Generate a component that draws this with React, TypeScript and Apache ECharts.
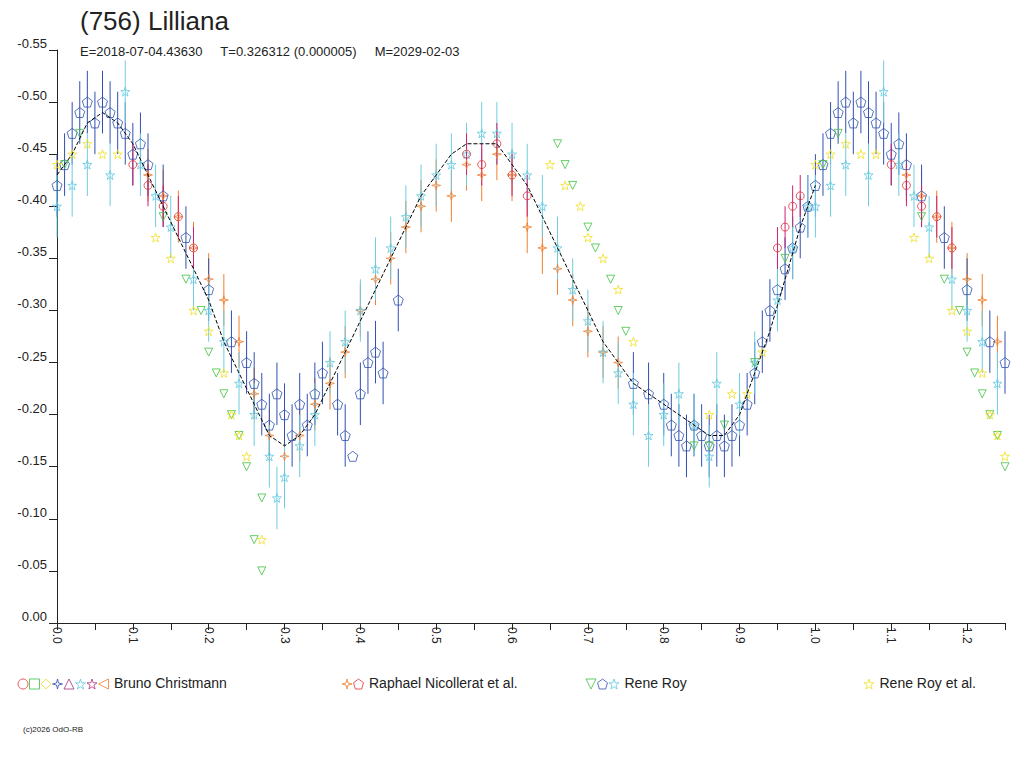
import React, { useEffect, useRef } from "react";
import * as echarts from "echarts";

// [phase, mag, error]
const blueData = [
  [0.0, -0.42, 0.03], [0.01, -0.44, 0.03], [0.02, -0.47, 0.03], [0.03, -0.49, 0.03], [0.04, -0.50, 0.03],
  [0.05, -0.48, 0.03], [0.06, -0.50, 0.03], [0.07, -0.49, 0.03], [0.08, -0.48, 0.03], [0.09, -0.47, 0.03],
  [0.1, -0.45, 0.03], [0.11, -0.46, 0.03], [0.12, -0.44, 0.03], [0.14, -0.41, 0.03], [0.17, -0.37, 0.03],
  [0.2, -0.32, 0.03], [0.23, -0.27, 0.03], [0.25, -0.25, 0.03], [0.26, -0.23, 0.03], [0.27, -0.21, 0.03],
  [0.28, -0.19, 0.03], [0.29, -0.22, 0.03], [0.3, -0.20, 0.03], [0.31, -0.18, 0.03], [0.32, -0.21, 0.03],
  [0.33, -0.19, 0.03], [0.34, -0.22, 0.03], [0.35, -0.24, 0.03], [0.37, -0.21, 0.03], [0.38, -0.18, 0.03],
  [0.39, -0.16, 0.0], [0.4, -0.22, 0.03], [0.41, -0.25, 0.03], [0.42, -0.26, 0.03], [0.43, -0.24, 0.03],
  [0.45, -0.31, 0.03], [0.76, -0.23, 0.03], [0.78, -0.22, 0.03], [0.8, -0.21, 0.03], [0.81, -0.19, 0.03],
  [0.82, -0.18, 0.03], [0.83, -0.17, 0.03], [0.84, -0.19, 0.03], [0.85, -0.18, 0.03], [0.86, -0.17, 0.03],
  [0.87, -0.18, 0.03], [0.88, -0.17, 0.03], [0.89, -0.18, 0.03], [0.9, -0.19, 0.03], [0.91, -0.21, 0.03],
  [0.92, -0.24, 0.03], [0.93, -0.27, 0.03], [0.94, -0.30, 0.03], [0.95, -0.32, 0.03], [0.96, -0.34, 0.03],
  [0.97, -0.36, 0.03], [0.98, -0.38, 0.03], [0.99, -0.40, 0.03],
];
const cyanData = [
  [0.0, -0.40, 0.03], [0.02, -0.42, 0.03], [0.04, -0.44, 0.03], [0.07, -0.43, 0.03], [0.09, -0.51, 0.03],
  [0.11, -0.44, 0.03], [0.13, -0.41, 0.03], [0.15, -0.38, 0.03], [0.18, -0.33, 0.03], [0.2, -0.30, 0.03],
  [0.22, -0.27, 0.03], [0.24, -0.23, 0.03], [0.26, -0.20, 0.03], [0.28, -0.16, 0.03], [0.29, -0.12, 0.03],
  [0.3, -0.14, 0.03], [0.32, -0.17, 0.03], [0.34, -0.20, 0.03], [0.36, -0.25, 0.03], [0.38, -0.27, 0.03],
  [0.4, -0.30, 0.03], [0.42, -0.34, 0.03], [0.44, -0.36, 0.03], [0.46, -0.39, 0.03], [0.48, -0.41, 0.03],
  [0.5, -0.43, 0.03], [0.52, -0.44, 0.03], [0.54, -0.45, 0.03], [0.56, -0.47, 0.03], [0.58, -0.47, 0.03],
  [0.6, -0.45, 0.03], [0.62, -0.43, 0.03], [0.64, -0.40, 0.03], [0.66, -0.36, 0.03], [0.68, -0.32, 0.03],
  [0.7, -0.29, 0.03], [0.72, -0.26, 0.03], [0.74, -0.24, 0.03], [0.76, -0.21, 0.03], [0.78, -0.18, 0.03],
  [0.8, -0.20, 0.03], [0.82, -0.22, 0.03], [0.84, -0.19, 0.03], [0.86, -0.16, 0.03], [0.87, -0.23, 0.03],
  [0.9, -0.21, 0.03], [0.92, -0.25, 0.03], [0.95, -0.31, 0.03], [0.97, -0.36, 0.03], [0.99, -0.40, 0.03],
];
const orangeData = [
  [0.12, -0.43, 0.025], [0.14, -0.41, 0.025], [0.16, -0.39, 0.025], [0.18, -0.36, 0.025], [0.2, -0.33, 0.025],
  [0.22, -0.31, 0.025], [0.24, -0.27, 0.025], [0.26, -0.22, 0.025], [0.28, -0.18, 0.025], [0.3, -0.16, 0.025],
  [0.32, -0.18, 0.025], [0.34, -0.21, 0.025], [0.36, -0.23, 0.025], [0.38, -0.26, 0.025], [0.4, -0.30, 0.025],
  [0.42, -0.33, 0.025], [0.44, -0.35, 0.025], [0.46, -0.38, 0.025], [0.48, -0.40, 0.025], [0.5, -0.42, 0.025],
  [0.52, -0.41, 0.025], [0.54, -0.44, 0.025], [0.56, -0.43, 0.025], [0.58, -0.45, 0.025], [0.6, -0.43, 0.025],
  [0.62, -0.38, 0.025], [0.64, -0.36, 0.025], [0.66, -0.34, 0.025], [0.68, -0.31, 0.025], [0.7, -0.28, 0.025],
  [0.72, -0.26, 0.025], [0.74, -0.25, 0.025],
];
const redData = [
  [0.1, -0.44, 0.02], [0.12, -0.42, 0.02], [0.14, -0.40, 0.02], [0.16, -0.39, 0.02], [0.18, -0.36, 0.02],
  [0.54, -0.45, 0.02], [0.56, -0.44, 0.02], [0.58, -0.46, 0.02], [0.6, -0.43, 0.02], [0.62, -0.41, 0.02],
  [0.95, -0.36, 0.02], [0.96, -0.38, 0.02], [0.97, -0.40, 0.02], [0.98, -0.41, 0.02],
];
const greenData = [
  [0.01, -0.44], [0.03, -0.47], [0.14, -0.39], [0.17, -0.33], [0.19, -0.30], [0.2, -0.26], [0.21, -0.24],
  [0.22, -0.22], [0.23, -0.20], [0.24, -0.18], [0.25, -0.15], [0.26, -0.08], [0.27, -0.05], [0.27, -0.12],
  [0.66, -0.46], [0.67, -0.44], [0.68, -0.42], [0.7, -0.38], [0.71, -0.36], [0.73, -0.33], [0.74, -0.30],
  [0.75, -0.28], [0.84, -0.17], [0.86, -0.17], [0.88, -0.19], [0.92, -0.25], [0.96, -0.35],
];
const yellowData = [
  [0.0, -0.44], [0.02, -0.45], [0.04, -0.46], [0.06, -0.45], [0.08, -0.45], [0.13, -0.37], [0.15, -0.35],
  [0.18, -0.30], [0.2, -0.28], [0.22, -0.24], [0.23, -0.20], [0.24, -0.18], [0.25, -0.16], [0.27, -0.08],
  [0.65, -0.44], [0.67, -0.42], [0.69, -0.40], [0.7, -0.37], [0.72, -0.35], [0.74, -0.32], [0.76, -0.27],
  [0.86, -0.20], [0.89, -0.22], [0.91, -0.22], [0.93, -0.26],
];
const fitData = [
  [0.0, -0.43], [0.02, -0.45], [0.04, -0.48], [0.06, -0.49], [0.08, -0.48], [0.1, -0.46], [0.12, -0.43],
  [0.14, -0.4], [0.16, -0.37], [0.18, -0.34], [0.2, -0.31], [0.22, -0.27], [0.24, -0.24], [0.26, -0.21],
  [0.28, -0.18], [0.3, -0.17], [0.32, -0.18], [0.34, -0.2], [0.36, -0.23], [0.38, -0.26], [0.4, -0.29],
  [0.42, -0.32], [0.44, -0.35], [0.46, -0.38], [0.48, -0.41], [0.5, -0.43], [0.52, -0.45], [0.54, -0.46],
  [0.56, -0.46], [0.58, -0.46], [0.6, -0.44], [0.62, -0.42], [0.64, -0.39], [0.66, -0.36], [0.68, -0.33],
  [0.7, -0.3], [0.72, -0.27], [0.74, -0.25], [0.76, -0.23], [0.78, -0.22], [0.8, -0.21], [0.82, -0.2],
  [0.84, -0.19], [0.86, -0.18], [0.88, -0.18], [0.9, -0.2], [0.92, -0.24], [0.94, -0.28], [0.96, -0.33],
  [0.98, -0.38], [1.0, -0.42],
];
const yTicks = ["0.00", "-0.05", "-0.10", "-0.15", "-0.20", "-0.25", "-0.30", "-0.35", "-0.40", "-0.45", "-0.50", "-0.55"];
const legendNames = ["Bruno Christmann", "Raphael Nicollerat et al.", "Rene Roy", "Rene Roy et al."];

const PENTAGON = "path://M5,0L10,3.8L8.1,10L1.9,10L0,3.8Z";
const STAR = "path://M5,0L6.2,3.6L10,3.6L7,5.9L8.1,9.5L5,7.3L1.9,9.5L3,5.9L0,3.6L3.8,3.6Z";
const TRI_DOWN = "path://M0,0L10,0L5,9Z";
const FOUR = "path://M5,0L6,4L10,5L6,6L5,10L4,6L0,5L4,4Z";
const TRI_LEFT = "path://M0,5L9,0L9,10Z";

// phases below 0.25 are shown again after 1.0
const wrap = (d: number[][]) => d.concat(d.filter((p) => p[0] <= 0.25).map((p) => [p[0] + 1, ...p.slice(1)]));

const App: React.FC = () => {
  const ref = useRef<HTMLDivElement>(null);
  useEffect(() => {
    const chart = echarts.init(ref.current, null, { renderer: "svg" });
    const font = "Liberation Sans, Arial, sans-serif";
    const errSeries = (data: number[][], color: string) => ({
      type: "custom",
      data: wrap(data),
      z: 1,
      silent: true,
      renderItem: (_p: any, api: any) => {
        const x = api.value(0), y = api.value(1), e = api.value(2);
        const a = api.coord([x, y - e]), b = api.coord([x, y + e]);
        return { type: "line", shape: { x1: a[0], y1: a[1], x2: b[0], y2: b[1] }, style: { stroke: color, lineWidth: 1 } };
      },
    });
    const pts = (data: number[][], color: string, symbol: string, size = 9) => ({
      type: "scatter",
      data: wrap(data).map((p) => [p[0], p[1]]),
      symbol,
      symbolSize: size,
      z: 3,
      itemStyle: { color: "rgba(0,0,0,0)", borderColor: color, borderWidth: 1 },
    });
    const legendX = [18, 342, 586, 864];
    const legendSyms = [
      [["circle", "#e03030"], ["rect", "#40c040"], ["diamond", "#f0e020"], [FOUR, "#3050b0"], ["triangle", "#a03080"], [STAR, "#60c8e0"], [STAR, "#b03080"], [TRI_LEFT, "#f08030"]],
      [[FOUR, "#f08030"], [PENTAGON, "#e03030"]],
      [[TRI_DOWN, "#40c040"], [PENTAGON, "#3050b0"], [STAR, "#60c8e0"]],
      [[STAR, "#f0e020"]],
    ];
    const legendTexts: any[] = [];
    const legendPts: any[] = [];
    legendSyms.forEach((syms, i) => {
      syms.forEach(([s, c], j) =>
        legendPts.push({ value: [legendX[i] + 5 + j * 11.5, 684], symbol: s, itemStyle: { borderColor: c } })
      );
      legendTexts.push({
        type: "text", left: legendX[i] + syms.length * 11.5 + 4, top: 676,
        style: { text: legendNames[i], font: `14px ${font}`, fill: "#222" },
      });
    });
    chart.setOption({
      animation: false,
      textStyle: { fontFamily: font },
      grid: [
        { left: 57, right: 19, top: 50, bottom: 145 },
        { left: 0, right: 0, top: 0, bottom: 0, show: false },
      ],
      xAxis: [
        {
          type: "value", min: 0, max: 1.25, interval: 0.05, splitLine: { show: false },
          axisLine: { lineStyle: { color: "#222" } },
          axisTick: { length: 7, lineStyle: { color: "#222" } },
          axisLabel: {
            rotate: -90, color: "#222", fontSize: 12, margin: 4,
            formatter: (v: number) => (Math.round(v * 100) % 10 === 0 ? v.toFixed(1) : ""),
          },
        },
        { type: "value", gridIndex: 1, min: 0, max: 1024, show: false },
      ],
      yAxis: [
        {
          type: "value", min: -0.55, max: 0, interval: 0.05, inverse: true, splitLine: { show: false },
          axisLine: { show: true, lineStyle: { color: "#222" } },
          axisTick: { length: 8, lineStyle: { color: "#222" } },
          axisLabel: {
            color: "#222", fontSize: 13, margin: 10, verticalAlign: "bottom",
            formatter: (v: number) => yTicks[Math.round(-v / 0.05)],
          },
        },
        { type: "value", gridIndex: 1, min: 0, max: 768, inverse: true, show: false },
      ],
      title: [
        { text: "(756) Lilliana", left: 75, top: 3, textStyle: { fontSize: 26, fontWeight: "normal", color: "#222", fontFamily: font } },
        { text: "E=2018-07-04.43630     T=0.326312 (0.000005)     M=2029-02-03", left: 75, top: 40, textStyle: { fontSize: 13, fontWeight: "normal", color: "#222", fontFamily: font } },
        { text: "(c)2026 OdO-RB", left: 18, top: 720, textStyle: { fontSize: 8, fontWeight: "normal", color: "#222", fontFamily: font } },
      ],
      graphic: legendTexts,
      series: [
        errSeries(orangeData, "#f08030"),
        errSeries(blueData, "#3050b0"),
        errSeries(cyanData, "#70cce0"),
        errSeries(redData, "#d02070"),
        pts(orangeData, "#f08030", FOUR),
        pts(blueData, "#3050b0", PENTAGON, 10),
        pts(cyanData, "#60c8e0", STAR),
        pts(redData, "#e03030", "circle", 8),
        pts(greenData, "#40c040", TRI_DOWN, 8),
        pts(yellowData, "#f0e020", STAR),
        {
          type: "line", data: fitData, showSymbol: false, z: 4,
          lineStyle: { color: "#000", type: "dashed", width: 1 },
        },
        {
          type: "scatter", xAxisIndex: 1, yAxisIndex: 1, data: legendPts, symbolSize: 10,
          itemStyle: { color: "rgba(0,0,0,0)", borderWidth: 1 },
        },
      ],
    });
    return () => chart.dispose();
  }, []);
  return <div ref={ref} style={{ position: "absolute", left: 0, top: 0, width: 1024, height: 768 }} />;
};

export default App;
